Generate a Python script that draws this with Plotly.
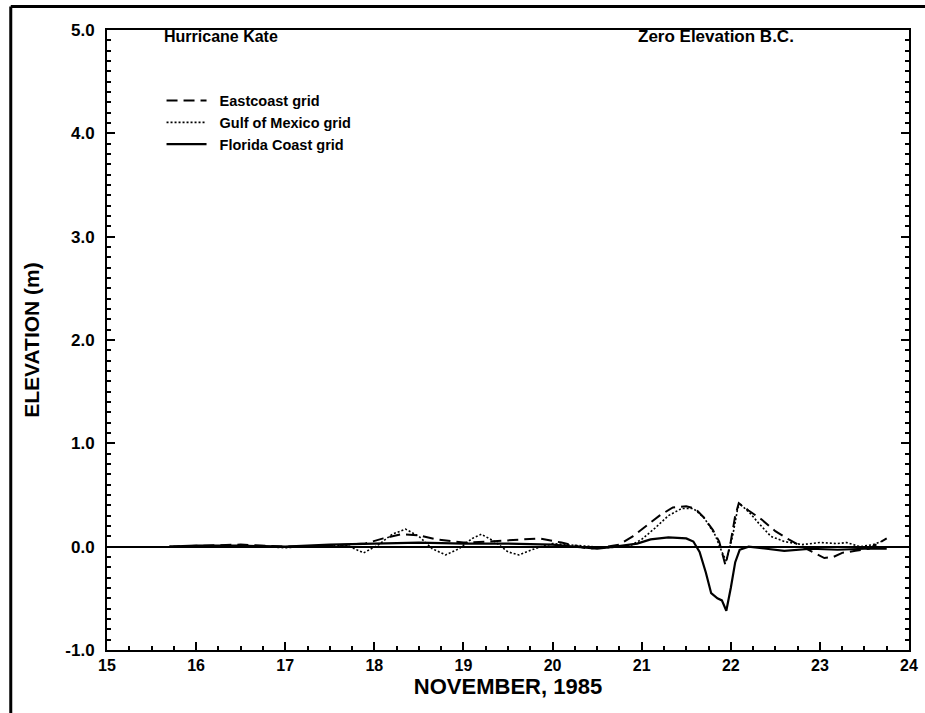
import plotly.graph_objects as go

# Eastcoast grid (dashed)
east_x = [15.7, 16.0, 16.5, 17.0, 17.5, 17.9, 18.1, 18.3, 18.5, 18.7, 19.0, 19.3, 19.6, 19.85,
          20.1, 20.4, 20.6, 20.75, 20.9, 21.05, 21.2, 21.35, 21.5, 21.6, 21.7, 21.8, 21.87,
          21.94, 22.0, 22.05, 22.09, 22.2, 22.35, 22.5, 22.65, 22.8, 22.95, 23.05, 23.15,
          23.25, 23.4, 23.55, 23.65, 23.75]
east_y = [0.0, 0.01, 0.02, 0.0, 0.01, 0.03, 0.08, 0.12, 0.11, 0.07, 0.04, 0.05, 0.07, 0.08,
          0.04, -0.02, 0.0, 0.02, 0.10, 0.20, 0.30, 0.38, 0.39, 0.37, 0.28, 0.16, 0.05,
          -0.18, 0.05, 0.30, 0.42, 0.35, 0.26, 0.15, 0.07, 0.0, -0.07, -0.11, -0.10,
          -0.06, -0.04, -0.02, 0.03, 0.08]

# Gulf of Mexico grid (dotted)
gulf_x = [15.7, 16.5, 17.0, 17.5, 17.7, 17.88, 18.05, 18.2, 18.35, 18.5, 18.65, 18.8, 18.95,
          19.1, 19.2, 19.35, 19.5, 19.62, 19.8, 20.0, 20.3, 20.6, 20.85, 21.0, 21.15, 21.3,
          21.45, 21.58, 21.7, 21.82, 21.9, 21.95, 22.02, 22.08, 22.12, 22.22, 22.32, 22.45,
          22.6, 22.8, 23.0, 23.2, 23.3, 23.45, 23.6, 23.72]
gulf_y = [0.0, 0.01, -0.01, 0.01, 0.01, -0.06, 0.02, 0.12, 0.17, 0.10, -0.02, -0.08, -0.02,
          0.08, 0.12, 0.05, -0.05, -0.08, -0.02, 0.03, 0.01, -0.01, 0.0, 0.07, 0.18, 0.30,
          0.37, 0.37, 0.28, 0.12, -0.05, -0.14, 0.10, 0.38, 0.40, 0.32, 0.22, 0.10,
          0.05, 0.02, 0.04, 0.03, 0.04, 0.0, 0.02, 0.06]

# Florida Coast grid (solid)
flor_x = [15.7, 16.0, 16.5, 17.0, 17.5, 18.0, 18.5, 19.0, 19.5, 20.0, 20.3, 20.5, 20.7, 20.95,
          21.1, 21.3, 21.5, 21.58, 21.65, 21.72, 21.78, 21.85, 21.9, 21.95, 22.0, 22.05,
          22.1, 22.2, 22.4, 22.6, 22.9, 23.2, 23.5, 23.75]
flor_y = [0.0, 0.01, 0.01, 0.0, 0.02, 0.03, 0.04, 0.03, 0.03, 0.02, 0.0, -0.02, 0.0, 0.03,
          0.07, 0.09, 0.08, 0.05, -0.05, -0.25, -0.45, -0.50, -0.52, -0.62, -0.40, -0.15,
          -0.03, 0.0, -0.02, -0.04, -0.02, -0.03, -0.02, -0.02]

series_names = ["Eastcoast grid", "Gulf of Mexico grid", "Florida Coast grid"]
x_ticks = [15, 16, 17, 18, 19, 20, 21, 22, 23, 24]
y_ticks = [-1.0, 0.0, 1.0, 2.0, 3.0, 4.0, 5.0]

FONT = "Liberation Sans, Arial, sans-serif"
NB = "\u00a0\u00a0"

fig = go.Figure()
fig.add_trace(go.Scatter(x=east_x, y=east_y, mode="lines", name=NB + series_names[0],
                         line=dict(color="black", width=2, dash="11px,6px")))
fig.add_trace(go.Scatter(x=gulf_x, y=gulf_y, mode="lines", name=NB + series_names[1],
                         line=dict(color="black", width=1.6, dash="2px,2px")))
fig.add_trace(go.Scatter(x=flor_x, y=flor_y, mode="lines", name=NB + series_names[2],
                         line=dict(color="black", width=2.2)))

fig.update_layout(
    width=925, height=713,
    margin=dict(l=107, r=7, t=30, b=63),
    paper_bgcolor="white", plot_bgcolor="white",
    font=dict(family=FONT, color="black"),
    showlegend=True,
    legend=dict(x=0.068, y=0.912, xanchor="left", yanchor="top",
                font=dict(size=14.5, family=FONT, weight="bold"),
                bgcolor="rgba(0,0,0,0)", tracegroupgap=0, itemwidth=40),
    annotations=[
        dict(text="Hurricane Kate", x=0.069, y=0.99, xref="paper", yref="paper",
             xanchor="left", yanchor="middle", showarrow=False,
             font=dict(size=16, family=FONT, weight="bold")),
        dict(text="Zero Elevation B.C.", x=0.659, y=0.99, xref="paper", yref="paper",
             xanchor="left", yanchor="middle", showarrow=False,
             font=dict(size=17, family=FONT, weight="bold")),
    ],
    shapes=[
        dict(type="line", xref="paper", yref="paper", x0=-0.12, x1=1.02, y0=1.038, y1=1.038,
             line=dict(color="black", width=3)),
        dict(type="line", xref="paper", yref="paper", x0=-0.12, x1=-0.12, y0=1.038, y1=-0.12,
             line=dict(color="black", width=3)),
    ],
)

fig.update_xaxes(
    range=[15, 24], tickvals=x_ticks, ticktext=[str(v) for v in x_ticks],
    ticks="inside", ticklen=8, tickwidth=1.5, tickcolor="black",
    minor=dict(dtick=0.25, ticks="inside", ticklen=4, tickwidth=1.5, tickcolor="black"),
    showline=True, linecolor="black", linewidth=2, mirror=True,
    showgrid=False, zeroline=False,
    tickfont=dict(size=16, family=FONT, weight="bold"),
    title=dict(text="NOVEMBER, 1985", font=dict(size=22, family=FONT, weight="bold"), standoff=0),
)
fig.update_yaxes(
    range=[-1.0, 5.0], tickvals=y_ticks, ticktext=[f"{v:.1f}" for v in y_ticks],
    ticks="inside", ticklen=8, tickwidth=1.5, tickcolor="black",
    minor=dict(dtick=0.1, ticks="inside", ticklen=4, tickwidth=1.5, tickcolor="black"),
    showline=True, linecolor="black", linewidth=2, mirror="allticks",
    showgrid=False, zeroline=True, zerolinecolor="black", zerolinewidth=2,
    tickfont=dict(size=17, family=FONT, weight="bold"),
    ticklabelstandoff=7,
    title=dict(text="ELEVATION (m)", font=dict(size=21, family=FONT, weight="bold"), standoff=20),
)

fig.write_html("out.html")
